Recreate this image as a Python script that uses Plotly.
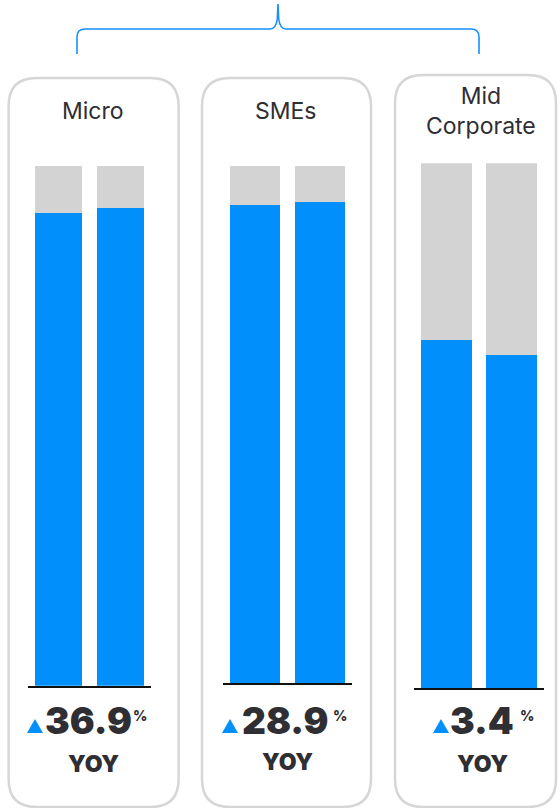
import plotly.graph_objects as go

# ---- data ----
segments = ["Micro", "SMEs", "Mid<br>Corporate"]
periods = ["Prior year", "Current year"]
blue_share = [[91.0, 91.8], [92.5, 92.9], [66.4, 63.4]]
grey_share = [[9.0, 8.2], [7.5, 7.1], [33.6, 36.6]]
yoy_growth = ["36.9", "28.9", "3.4"]
yoy_label = "YOY"

BLUE = "#008FFB"
GREY = "#D3D3D3"
TEXT = "#2E2E33"
W, H = 560, 808

def px(x):
    return x / W

def py(y):
    return 1 - y / H

# layout geometry in pixels (x0, x1 of the axis, baseline y, top y)
axes_px = [(28, 151, 685.7, 165.7), (223, 352, 683.3, 165.7), (414, 544, 688.0, 163.3)]
boxes_px = [(8.6, 178.6, 78, 807), (202, 371, 78, 807), (395, 556, 75, 807)]
title_px = [(93, 111), (286, 111), (481, 111)]
num_px = [(88, 720), (285, 720), (482, 720)]
tri_px = [(27, 43, 733), (222, 238, 733), (433, 449, 733)]
pct_px = [(131, 715), (331, 715), (518, 715)]
yoy_px = [(93, 764), (287, 762), (482, 764)]

fig = go.Figure()
for i in range(3):
    suf = "" if i == 0 else str(i + 1)
    fig.add_trace(go.Bar(x=periods, y=blue_share[i], marker=dict(color=BLUE, line=dict(width=0)),
                         xaxis="x" + suf, yaxis="y" + suf, hoverinfo="skip"))
    fig.add_trace(go.Bar(x=periods, y=grey_share[i], marker=dict(color=GREY, line=dict(width=0)),
                         xaxis="x" + suf, yaxis="y" + suf, hoverinfo="skip"))

layout = dict(width=W, height=H, margin=dict(l=0, r=0, t=0, b=0),
              paper_bgcolor="white", plot_bgcolor="rgba(0,0,0,0)",
              showlegend=False, barmode="stack", bargap=0.23,
              font=dict(family="Inter, Roboto, sans-serif", color=TEXT))
for i, (x0, x1, yb, yt) in enumerate(axes_px):
    suf = "" if i == 0 else str(i + 1)
    layout["xaxis" + suf] = dict(domain=[px(x0), px(x1)], anchor="y" + suf, range=[-0.5, 1.5],
                                 showline=True, linecolor="#111111", linewidth=2,
                                 showticklabels=False, showgrid=False, zeroline=False, ticks="")
    layout["yaxis" + suf] = dict(domain=[py(yb), py(yt)], anchor="x" + suf, range=[0, 100],
                                 visible=False, showgrid=False, zeroline=False)
fig.update_layout(**layout)

def rrect(x0, x1, y0, y1, r):
    pts = [
        ("M", (x0 + r, y0)), ("L", (x1 - r, y0)), ("Q", (x1, y0), (x1, y0 + r)),
        ("L", (x1, y1 - r)), ("Q", (x1, y1), (x1 - r, y1)), ("L", (x0 + r, y1)),
        ("Q", (x0, y1), (x0, y1 - r)), ("L", (x0, y0 + r)), ("Q", (x0, y0), (x0 + r, y0)),
    ]
    s = ""
    for p in pts:
        s += p[0] + " " + " ".join(f"{px(a):.5f},{py(b):.5f}" for a, b in p[1:]) + " "
    return s + "Z"

shapes = []
for (x0, x1, y0, y1) in boxes_px:
    shapes.append(dict(type="path", xref="paper", yref="paper", path=rrect(x0, x1, y0, y1, 28),
                       line=dict(color="#D6D6D6", width=2.5), fillcolor="rgba(0,0,0,0)", layer="below"))

# curly bracket
br = [("M", (77, 54)), ("L", (77, 37)), ("Q", (77, 29), (85, 29)), ("L", (270, 29)),
      ("Q", (276, 29), (277.3, 19)), ("L", (278, 4)), ("L", (278.7, 19)), ("Q", (280, 29), (286, 29)),
      ("L", (471, 29)), ("Q", (479, 29), (479, 37)), ("L", (479, 54))]
bpath = ""
for p in br:
    bpath += p[0] + " " + " ".join(f"{px(a):.5f},{py(b):.5f}" for a, b in p[1:]) + " "
shapes.append(dict(type="path", xref="paper", yref="paper", path=bpath,
                   line=dict(color="#1A8FFF", width=1.6), fillcolor="rgba(0,0,0,0)"))

# triangles
for (a, b, yb) in tri_px:
    h = 14
    path = f"M {px(a):.5f},{py(yb):.5f} L {px(b):.5f},{py(yb):.5f} L {px((a+b)/2):.5f},{py(yb-h):.5f} Z"
    shapes.append(dict(type="path", xref="paper", yref="paper", path=path,
                       line=dict(width=0), fillcolor=BLUE))
fig.update_layout(shapes=shapes)

ann = []
for i in range(3):
    ann.append(dict(x=px(title_px[i][0]), y=py(title_px[i][1]), xref="paper", yref="paper",
                    text=segments[i], showarrow=False, xanchor="center", yanchor="middle",
                    font=dict(size=23, color=TEXT, family="Inter, sans-serif")))
    ann.append(dict(x=px(num_px[i][0]), y=py(num_px[i][1]), xref="paper", yref="paper",
                    text=yoy_growth[i], showarrow=False, xanchor="center", yanchor="middle",
                    font=dict(size=37, color=TEXT, family="Inter, sans-serif", weight=900)))
    ann.append(dict(x=px(pct_px[i][0]), y=py(pct_px[i][1]), xref="paper", yref="paper",
                    text="%", showarrow=False, xanchor="left", yanchor="middle",
                    font=dict(size=14, color=TEXT, family="Inter, sans-serif", weight=800)))
    ann.append(dict(x=px(yoy_px[i][0]), y=py(yoy_px[i][1]), xref="paper", yref="paper",
                    text=yoy_label, showarrow=False, xanchor="center", yanchor="middle",
                    font=dict(size=23, color=TEXT, family="Inter, sans-serif", weight=900)))
fig.update_layout(annotations=ann)

fig.write_html("out.html", config={"displayModeBar": False},
               post_script="document.body.style.margin='0';document.body.style.overflow='hidden';")
